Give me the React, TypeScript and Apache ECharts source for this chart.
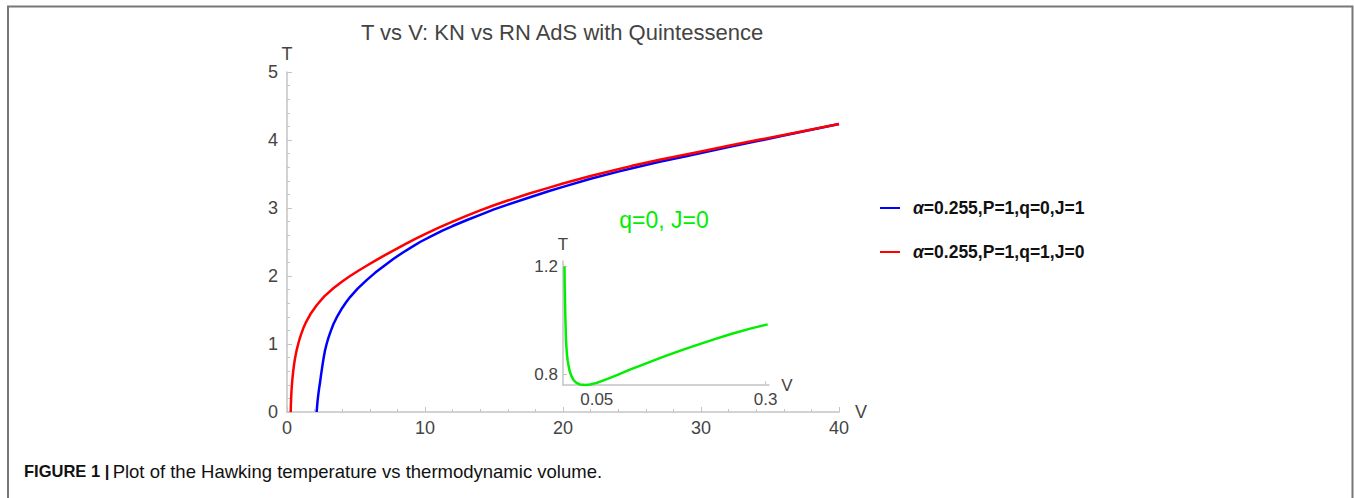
import React, { useEffect, useRef } from "react";
import * as echarts from "echarts";

const chartTitle = "T vs V: KN vs RN AdS with Quintessence";
const captionBold = "FIGURE 1 |";
const captionText = "Plot of the Hawking temperature vs thermodynamic volume.";
const insetNote = "q=0, J=0";

const knName = "α=0.255,P=1,q=0,J=1";
const rnName = "α=0.255,P=1,q=1,J=0";

// Blue curve (KN, q=0, J=1)
const knV = [2.15, 2.18, 2.22, 2.27, 2.33, 2.39, 2.47, 2.55, 2.65, 2.75, 2.87, 3.0, 3.17, 3.36, 3.6, 3.8, 4.0, 4.27, 4.57, 5.1, 5.77, 6.4, 6.98, 7.7, 8.43, 9.0, 9.64, 10.5, 11.3, 12, 13, 14, 15, 16, 17.5, 19, 20, 22, 24, 25, 27, 29, 30, 32, 34, 36, 38, 40];
const knT = [0, 0.08, 0.17, 0.26, 0.35, 0.43, 0.55, 0.66, 0.79, 0.9, 1.0, 1.09, 1.19, 1.29, 1.39, 1.46, 1.53, 1.61, 1.69, 1.81, 1.94, 2.05, 2.14, 2.25, 2.35, 2.42, 2.5, 2.59, 2.67, 2.735, 2.82, 2.9, 2.98, 3.05, 3.15, 3.25, 3.31, 3.43, 3.535, 3.585, 3.68, 3.765, 3.81, 3.895, 3.98, 4.065, 4.15, 4.235];

// Red curve (RN, q=1, J=0)
const rnV = [0.27, 0.28, 0.3, 0.32, 0.35, 0.38, 0.41, 0.45, 0.5, 0.55, 0.6, 0.7, 0.85, 1.0, 1.18, 1.4, 1.7, 2.15, 2.7, 3.36, 4.0, 4.57, 5.2, 5.77, 6.4, 7.0, 7.8, 8.67, 9.3, 10, 11, 12, 13, 14, 15, 16, 17.5, 19, 20, 22, 24, 25, 27, 29, 30, 32, 34, 36, 38, 40];
const rnT = [0, 0.1, 0.2, 0.29, 0.38, 0.46, 0.52, 0.6, 0.68, 0.75, 0.81, 0.91, 1.03, 1.13, 1.23, 1.33, 1.44, 1.57, 1.7, 1.82, 1.92, 2.0, 2.08, 2.15, 2.225, 2.295, 2.385, 2.48, 2.545, 2.615, 2.71, 2.8, 2.885, 2.965, 3.04, 3.11, 3.21, 3.3, 3.36, 3.47, 3.57, 3.62, 3.71, 3.79, 3.83, 3.915, 3.995, 4.075, 4.155, 4.235];

// Inset green curve (q=0, J=0)
const insetV = [0.0022, 0.0025, 0.0028, 0.003, 0.0033, 0.0037, 0.0045, 0.0052, 0.006, 0.007, 0.008, 0.01, 0.013, 0.016, 0.02, 0.025, 0.033, 0.04, 0.05, 0.065, 0.079, 0.1, 0.129, 0.15, 0.178, 0.2, 0.227, 0.25, 0.28, 0.303];
const insetT = [1.2, 1.13, 1.1, 1.07, 1.03, 0.99, 0.925, 0.895, 0.87, 0.85, 0.835, 0.81, 0.79, 0.777, 0.768, 0.762, 0.76, 0.762, 0.768, 0.782, 0.796, 0.818, 0.846, 0.866, 0.891, 0.91, 0.932, 0.95, 0.971, 0.985];

const mainXMin = 0, mainXMax = 40, mainXStep = 10;
const mainYMin = 0, mainYMax = 5, mainYStep = 1;
const insetXMin = 0, insetXMax = 0.305;
const insetYMin = 0.76, insetYMax = 1.22;
const insetXTicks = [0.05, 0.3];
const insetYTicks = [0.8, 1.2];

const FONT = "'Liberation Sans', Arial, sans-serif";
const AXIS_COLOR = "#c4c4c4";
const LABEL_COLOR = "#444";
const GREEN = "#00ee00";

const zip = (xs: number[], ys: number[]) => xs.map((x, i) => [x, ys[i]]);

export default function App() {
  const ref = useRef<HTMLDivElement>(null);
  useEffect(() => {
    document.body.style.margin = "0";
    const chart = echarts.init(ref.current!, null, { renderer: "svg" });
    const mainAxisCommon = {
      type: "value" as const,
      axisLine: { show: true, onZero: false, lineStyle: { color: AXIS_COLOR, width: 1.5 } },
      axisTick: { show: true, inside: true, length: 5, lineStyle: { color: AXIS_COLOR } },
      minorTick: { show: true, splitNumber: 5, length: 3, lineStyle: { color: AXIS_COLOR } },
      splitLine: { show: false },
      axisLabel: { color: LABEL_COLOR, fontSize: 18, fontFamily: FONT },
      nameTextStyle: { color: LABEL_COLOR, fontSize: 18, fontFamily: FONT },
    };
    const insetAxisCommon = {
      type: "value" as const,
      axisLine: { show: true, onZero: false, lineStyle: { color: AXIS_COLOR, width: 1.5 } },
      splitLine: { show: false },
      nameTextStyle: { color: LABEL_COLOR, fontSize: 17, fontFamily: FONT },
    };
    chart.setOption({
      animation: false,
      grid: [
        { left: 287, right: 515, top: 72, bottom: 86, containLabel: false, outerBoundsMode: "none" },
        { left: 563, right: 585, top: 261, bottom: 113, containLabel: false, outerBoundsMode: "none" },
      ],
      xAxis: [
        {
          ...mainAxisCommon,
          gridIndex: 0,
          min: mainXMin,
          max: mainXMax,
          interval: mainXStep,
          name: "V",
          nameLocation: "end",
          nameGap: 10,
          axisLabel: { ...mainAxisCommon.axisLabel, margin: 7 },
        },
        {
          ...insetAxisCommon,
          gridIndex: 1,
          min: insetXMin,
          max: insetXMax,
          name: "V",
          nameLocation: "end",
          nameGap: 10,
          axisTick: { show: true, inside: true, length: 4, customValues: insetXTicks, lineStyle: { color: AXIS_COLOR } },
          axisLabel: { color: LABEL_COLOR, fontSize: 17, fontFamily: FONT, margin: 6, customValues: insetXTicks },
        },
      ],
      yAxis: [
        {
          ...mainAxisCommon,
          gridIndex: 0,
          min: mainYMin,
          max: mainYMax,
          interval: mainYStep,
          name: "T",
          nameLocation: "end",
          nameGap: 5,
          axisLabel: { ...mainAxisCommon.axisLabel, margin: 9 },
        },
        {
          ...insetAxisCommon,
          gridIndex: 1,
          min: insetYMin,
          max: insetYMax,
          name: "T",
          nameLocation: "end",
          nameGap: 8,
          axisTick: { show: true, inside: true, length: 4, customValues: insetYTicks, lineStyle: { color: AXIS_COLOR } },
          axisLabel: { color: LABEL_COLOR, fontSize: 17, fontFamily: FONT, margin: 5, customValues: insetYTicks },
        },
      ],
      legend: {
        data: [knName, rnName],
        orient: "vertical",
        left: 880,
        top: 199,
        padding: 0,
        itemWidth: 20,
        itemHeight: 2,
        itemGap: 26,
        icon: "rect",
        formatter: (name: string) => `{i|α}{t|${name.slice(1)}}`,
        textStyle: {
          padding: [0, 0, 0, 8],
          rich: {
            i: { fontSize: 17.5, fontWeight: "bold", fontStyle: "italic", color: "#111", fontFamily: FONT },
            t: { fontSize: 17.5, fontWeight: "bold", color: "#111", fontFamily: FONT },
          },
        },
      },
      series: [
        {
          name: knName,
          type: "line",
          xAxisIndex: 0,
          yAxisIndex: 0,
          data: zip(knV, knT),
          showSymbol: false,
          lineStyle: { color: "#0000ff", width: 2.5, join: "round" },
          itemStyle: { color: "#0000ff" },
        },
        {
          name: rnName,
          type: "line",
          xAxisIndex: 0,
          yAxisIndex: 0,
          data: zip(rnV, rnT),
          showSymbol: false,
          lineStyle: { color: "#ff0000", width: 2.5, join: "round" },
          itemStyle: { color: "#ff0000" },
        },
        {
          name: "inset",
          type: "line",
          xAxisIndex: 1,
          yAxisIndex: 1,
          data: zip(insetV, insetT),
          showSymbol: false,
          lineStyle: { color: GREEN, width: 2.5, join: "round" },
          itemStyle: { color: GREEN },
        },
      ],
      graphic: [
        {
          type: "polyline",
          shape: { points: [[8, 498], [8, 6.5], [1352.5, 6.5], [1352.5, 498]] },
          style: { stroke: "#777", lineWidth: 2, fill: null },
          silent: true,
        },
        {
          type: "text",
          x: 562,
          y: 32,
          style: { text: chartTitle, fontSize: 22, fill: "#444", fontFamily: FONT, align: "center", verticalAlign: "middle" },
        },
        {
          type: "text",
          x: 664,
          y: 220,
          style: { text: insetNote, fontSize: 23, fill: GREEN, fontFamily: FONT, align: "center", verticalAlign: "middle" },
        },
        {
          type: "text",
          x: 24,
          y: 471,
          style: {
            text: `{b|${captionBold}} {n|${captionText}}`,
            fontFamily: FONT,
            verticalAlign: "middle",
            rich: {
              b: { fontSize: 16.5, fontWeight: "bold", fill: "#111", fontFamily: FONT },
              n: { fontSize: 18.5, fill: "#111", fontFamily: FONT },
            },
          },
        },
      ],
    });
    return () => chart.dispose();
  }, []);
  return <div ref={ref} style={{ width: 1354, height: 498 }} />;
}
